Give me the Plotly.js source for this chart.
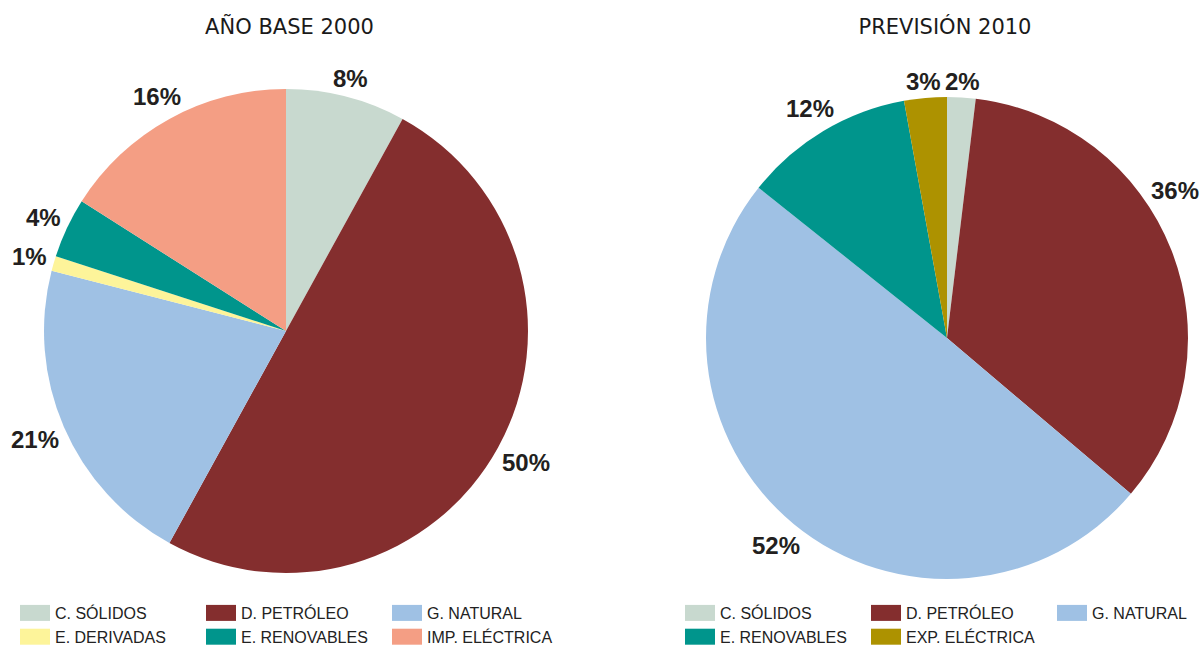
<!DOCTYPE html>
<html>
<head>
<meta charset="utf-8">
<script src="https://cdn.plot.ly/plotly-3.0.1.min.js"></script>
<style>
  html, body { margin: 0; padding: 0; background: #fff; overflow: hidden; width: 1203px; height: 654px; }
  #left { position: absolute; left: 0; top: 0; width: 601px; height: 654px; }
  #right { position: absolute; left: 560px; top: 0; width: 700px; height: 654px; }
</style>
</head>
<body>
<div id="left"></div>
<div id="right"></div>
<script>
// ---- data ----
const titleLeft = "AÑO BASE 2000";
const titleRight = "PREVISIÓN 2010";

const labels2000 = ["C. SÓLIDOS", "D. PETRÓLEO", "G. NATURAL", "E. DERIVADAS", "E. RENOVABLES", "IMP. ELÉCTRICA"];
const values2000 = [8, 50, 21, 1, 4, 16];
const colors2000 = ["#c8d9cf", "#842e2e", "#9fc1e4", "#fdf49a", "#00958c", "#f49e84"];

const labels2010 = ["C. SÓLIDOS", "D. PETRÓLEO", "G. NATURAL", "E. RENOVABLES", "EXP. ELÉCTRICA"];
const values2010 = [2, 36, 52, 12, 3];
const colors2010 = ["#c8d9cf", "#842e2e", "#9fc1e4", "#00958c", "#ad9200"];

const FONT = "Liberation Sans, Arial, sans-serif";
const TITLE_FONT = "DejaVu Sans, Liberation Sans, sans-serif";
const H = 654;

function pieTrace(labels, values, colors, domain) {
  return {
    type: "pie",
    labels: labels,
    values: values,
    marker: { colors: colors, line: { width: 0 } },
    sort: false,
    direction: "clockwise",
    rotation: 0,
    textinfo: "none",
    hoverinfo: "skip",
    domain: domain
  };
}

// percent labels placed just outside each slice, at the slice's middle angle
function labelAnnotations(values, domain, divW, maxX) {
  const total = values.reduce((a, b) => a + b, 0);
  const cx = divW * (domain.x[0] + domain.x[1]) / 2;
  const cy = H * (1 - (domain.y[0] + domain.y[1]) / 2);
  const r = Math.min(divW * (domain.x[1] - domain.x[0]), H * (domain.y[1] - domain.y[0])) / 2;
  const gap = 6, hh = 9;
  let cum = 0;
  return values.map(v => {
    const txt = v + "%";
    const w = 13.35 * (txt.length - 1) + 21.3;
    let a = (cum + v / 2) / total * 2 * Math.PI;
    cum += v;
    const pos = ang => {
      const d = r + gap + (w / 2) * Math.abs(Math.sin(ang)) + hh * Math.abs(Math.cos(ang));
      return [cx + d * Math.sin(ang), cy - d * Math.cos(ang)];
    };
    let p = pos(a);
    // keep the label inside the visible page: slide it along the rim toward the top
    let guard = 0;
    while (p[0] + w / 2 > maxX && guard < 200) {
      a += (a < Math.PI / 2 || a > 3 * Math.PI / 2) ? (a < Math.PI ? -0.005 : 0.005) : 0.005;
      p = pos(a);
      guard++;
    }
    return {
      text: txt, showarrow: false,
      x: p[0] / divW, y: 1 - p[1] / H, xref: "paper", yref: "paper",
      xanchor: "center", yanchor: "middle",
      font: { family: FONT, size: 24, color: "#231f20", weight: "bold" }
    };
  });
}

function layoutFor(title, titleX, legendX, divW, annotations) {
  return {
    width: divW, height: H,
    margin: { l: 0, r: 0, t: 0, b: 0 },
    paper_bgcolor: "rgba(0,0,0,0)",
    plot_bgcolor: "rgba(0,0,0,0)",
    title: {
      text: title,
      font: { family: TITLE_FONT, size: 21, color: "#1a1a1a" },
      x: titleX, xref: "container", xanchor: "center",
      y: 1 - 27 / H, yref: "container", yanchor: "middle"
    },
    showlegend: true,
    legend: {
      orientation: "h",
      x: legendX, xanchor: "left",
      y: 58 / H, yanchor: "top",
      entrywidth: 141,
      entrywidthmode: "pixels",
      font: { family: FONT, size: 16, color: "#222222" },
      bgcolor: "rgba(0,0,0,0)",
      traceorder: "normal"
    },
    annotations: annotations
  };
}

const cfg = { displayModeBar: false, staticPlot: true };

const domL = { x: [44 / 601, 528 / 601], y: [81 / H, 565 / H] };
const domR = { x: [146 / 700, 628 / 700], y: [75 / H, 557 / H] };

function widenSwatches(gd) {
  gd.querySelectorAll("path.legendpie").forEach(p => p.setAttribute("d", "M-15,8V-8H15V8Z"));
}

Plotly.newPlot("left",
  [pieTrace(labels2000, values2000, colors2000, domL)],
  layoutFor(titleLeft, 289.5 / 601, 15 / 601, 601, labelAnnotations(values2000, domL, 601, 598)),
  cfg).then(widenSwatches);

Plotly.newPlot("right",
  [pieTrace(labels2010, values2010, colors2010, domR)],
  layoutFor(titleRight, 385 / 700, 120 / 700, 700, labelAnnotations(values2010, domR, 700, 1200 - 560)),
  cfg).then(widenSwatches);
</script>
</body>
</html>
